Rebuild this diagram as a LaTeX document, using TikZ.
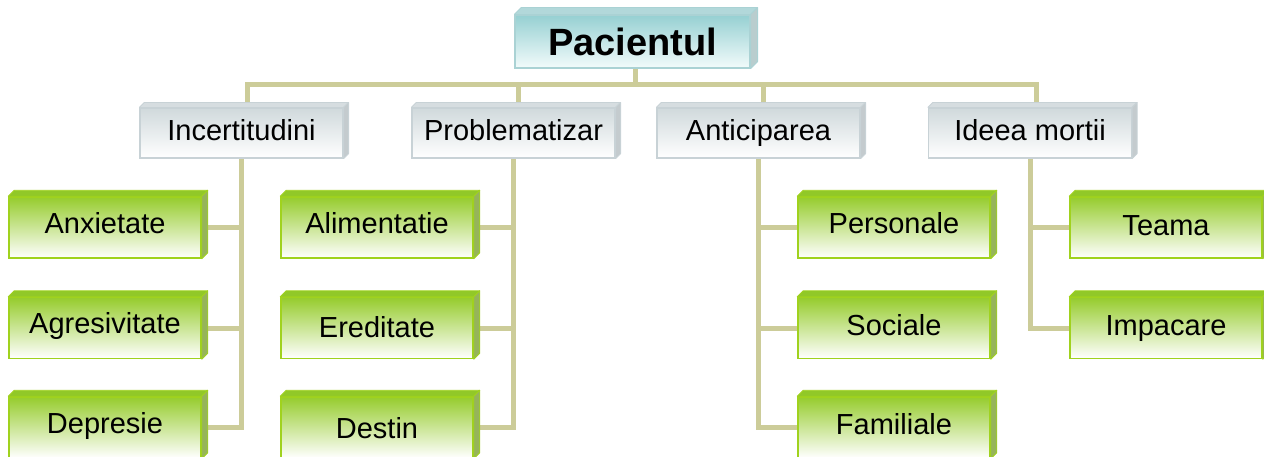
\documentclass[tikz,border=0pt]{standalone}
\usepackage{fontspec}
\setmainfont{Liberation Sans}
\usetikzlibrary{calc,backgrounds}

\definecolor{conncol}{RGB}{204,204,153}
\definecolor{leafedge}{RGB}{160,210,30}
\definecolor{leaftop}{RGB}{150,204,45}
\definecolor{leafbev}{RGB}{145,200,40}
\definecolor{leafside}{RGB}{150,180,90}
\definecolor{graytop}{RGB}{208,217,220}
\definecolor{grayedge}{RGB}{200,210,214}
\definecolor{graybev}{RGB}{214,221,224}
\definecolor{grayside}{RGB}{196,203,206}
\definecolor{tealtop}{RGB}{150,208,210}
\definecolor{tealbottom}{RGB}{242,251,251}
\definecolor{tealbev}{RGB}{178,216,218}
\definecolor{tealside}{RGB}{185,205,206}
\definecolor{tealedge}{RGB}{170,210,212}

\tikzset{
  x=1pt, y=-1pt,
  conn/.style={draw=conncol, line width=5pt},
  leafbox/.style={draw=leafedge, line width=1.5pt, top color=leaftop, bottom color=white,
    minimum width=192pt, minimum height=61pt, inner sep=0pt},
  lvtwo/.style={draw=grayedge, line width=1.2pt, top color=graytop, bottom color=white,
    minimum width=203pt, minimum height=50pt, inner sep=0pt},
  rootbox/.style={draw=tealedge, line width=1.2pt, top color=tealtop, bottom color=tealbottom,
    minimum width=235pt, minimum height=53pt, inner sep=0pt},
  lbl/.style={anchor=base, inner sep=0pt, font=\fontsize{29}{34}\selectfont},
  rootlbl/.style={anchor=base, inner sep=0pt, font=\fontsize{38}{44}\selectfont\bfseries},
}

\newcommand\bevelbox[5]{% name, depth, topcol, sidecol, edgecol
  \filldraw[fill=#3, draw=#5, line width=0.8pt, line join=round]
    (#1.north west) -- ++(#2,-#2) -- ($(#1.north east)+(#2,-#2)$) -- (#1.north east) -- cycle;
  \filldraw[fill=#4, draw=#5, line width=0.8pt, line join=round]
    (#1.north east) -- ++(#2,-#2) -- ($(#1.south east)+(#2,-#2)$) -- (#1.south east) -- cycle;
}

\begin{document}
\begin{tikzpicture}
\useasboundingbox (0,0) rectangle (1264,456);
\clip (0,0) rectangle (1264,456);

% root
\node[rootbox] (pac) at (632.5,41.5) {};
\bevelbox{pac}{7}{tealbev}{tealside}{tealedge}
\node[rootlbl] (pac-t) at (632.5,55) {Pacientul};

% level two
\node[lvtwo] (inc) at (241.5,133) {};
\node[lvtwo] (pro) at (513.5,133) {};
\node[lvtwo] (ant) at (758.5,133) {};
\node[lvtwo] (ide) at (1030,133) {};
\foreach \n in {inc,pro,ant,ide}{\bevelbox{\n}{5}{graybev}{grayside}{grayedge}}
\node[lbl] (inc-t) at (241.5,140) {Incertitudini};
\node[lbl] (pro-t) at (513.5,140) {Problematizar};
\node[lbl] (ant-t) at (758.5,140) {Anticiparea};
\node[lbl] (ide-t) at (1030,140) {Ideea mortii};

% leaves
\node[leafbox] (anx) at (105,227.5) {};
\node[leafbox] (agr) at (105,328) {};
\node[leafbox] (dep) at (105,427.5) {};
\node[leafbox] (ali) at (377,227.5) {};
\node[leafbox] (ere) at (377,328) {};
\node[leafbox] (des) at (377,427.5) {};
\node[leafbox] (per) at (894,227.5) {};
\node[leafbox] (soc) at (894,328) {};
\node[leafbox] (fam) at (894,427.5) {};
\node[leafbox] (tea) at (1166,227.5) {};
\node[leafbox] (imp) at (1166,328) {};
\foreach \n in {anx,agr,dep,ali,ere,des,per,soc,fam,tea,imp}{\bevelbox{\n}{6}{leafbev}{leafside}{leafedge}}

\node[lbl] (anx-t) at (105,233) {Anxietate};
\node[lbl] (agr-t) at (105,333) {Agresivitate};
\node[lbl] (dep-t) at (105,433) {Depresie};
\node[lbl] (ali-t) at (377,233) {Alimentatie};
\node[lbl] (ere-t) at (377,337) {Ereditate};
\node[lbl] (des-t) at (377,438) {Destin};
\node[lbl] (per-t) at (894,233) {Personale};
\node[lbl] (soc-t) at (894,335) {Sociale};
\node[lbl] (fam-t) at (894,434) {Familiale};
\node[lbl] (tea-t) at (1166,235) {Teama};
\node[lbl] (imp-t) at (1166,335) {Impacare};

% connectors
\begin{scope}[on background layer]
\coordinate (bus) at (635.5,84);
\draw[conn] ([xshift=3pt]pac.south) -- (bus);
\draw[conn] ([xshift=6pt]inc.north) |- (bus) -| ([xshift=6pt]ide.north);
\draw[conn] ([xshift=5pt]pro.north) -- ([xshift=5pt]pro.north |- bus);
\draw[conn] ([xshift=5pt]ant.north) -- ([xshift=5pt]ant.north |- bus);

\draw[conn] (inc.south) |- (dep.east);
\draw[conn] (anx.east) -- (anx.east -| inc.south);
\draw[conn] (agr.east) -- (agr.east -| inc.south);

\draw[conn] (pro.south) |- (des.east);
\draw[conn] (ali.east) -- (ali.east -| pro.south);
\draw[conn] (ere.east) -- (ere.east -| pro.south);

\draw[conn] (ant.south) |- (fam.west);
\draw[conn] (per.west) -- (per.west -| ant.south);
\draw[conn] (soc.west) -- (soc.west -| ant.south);

\draw[conn] (ide.south) |- (imp.west);
\draw[conn] (tea.west) -- (tea.west -| ide.south);
\end{scope}
\end{tikzpicture}
\end{document}
